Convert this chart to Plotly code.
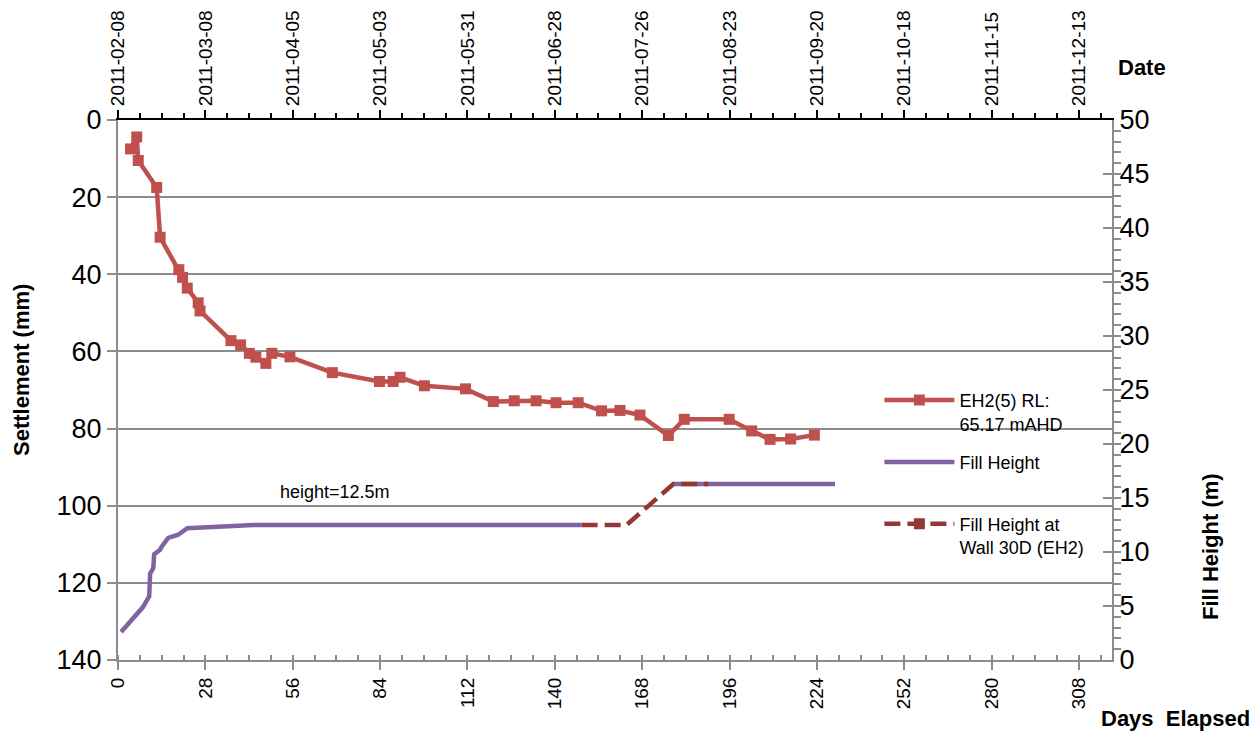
import datetime as dt
import plotly.graph_objects as go

# ---------------- data ----------------
start_date = dt.date(2011, 2, 8)

settle_day = [4.0, 6.0, 6.5, 12.4, 13.5, 19.5, 20.7, 22.2, 25.7, 26.3, 36.2, 39.3,
              42.1, 44.2, 47.4, 49.3, 55.1, 68.7, 83.8, 88.2, 90.4, 98.2, 111.4,
              120.3, 127.0, 134.0, 140.4, 147.5, 155.0, 160.9, 167.3, 176.4, 181.5,
              195.9, 203.1, 209.0, 215.6, 223.2]
settle_mm = [7.5, 4.4, 10.5, 17.5, 30.4, 38.8, 40.8, 43.6, 47.4, 49.5, 57.2, 58.3,
             60.5, 61.5, 63.1, 60.5, 61.4, 65.5, 67.8, 67.8, 66.7, 68.9, 69.7,
             73.0, 72.8, 72.8, 73.3, 73.3, 75.4, 75.3, 76.5, 81.8, 77.6,
             77.6, 80.6, 82.8, 82.7, 81.7]

fill_day = [1.0, 8.0, 9.2, 10.0, 10.3, 11.3, 11.6, 13.5, 14.0, 16.1, 19.3, 22.2,
            43.4, 148.6, None, 178.0, 229.8]
fill_m = [2.6, 4.9, 5.5, 5.9, 8.0, 8.5, 9.8, 10.2, 10.5, 11.3, 11.6, 12.2,
          12.5, 12.5, None, 16.3, 16.3]

wall_day = [148.6, 163.0, 178.0, 189.2]
wall_m = [12.5, 12.5, 16.3, 16.3]

day_ticks = [0, 28, 56, 84, 112, 140, 168, 196, 224, 252, 280, 308]
settle_ticks = [0, 20, 40, 60, 80, 100, 120, 140]
fill_ticks = [0, 5, 10, 15, 20, 25, 30, 35, 40, 45, 50]

names = ["EH2(5) RL:<br>65.17 mAHD", "Fill Height<br> ", "Fill Height at<br>Wall 30D (EH2)"]
note_text = "height=12.5m"
note_day, note_mm = 69.6, 96.5

day_max = 318.6

# ---------------- styling ----------------
RED = "#C0504D"
PURPLE = "#8064A2"
DARKRED = "#953735"
GRID = "#8C8C8C"
TICKFONT = dict(family="Liberation Sans, Arial, sans-serif", size=27, color="black")
TITLEFONT = dict(family="Liberation Sans Narrow, Liberation Sans, Arial", size=22, color="black")

# the page body adds an 8px offset, so the figure is 8px smaller on each side
PAGE_OFF = 8
W, H = 1259 - PAGE_OFF, 733 - PAGE_OFF
PL, PT, PR, PB = 118, 120, 1112, 660  # plot area in screen pixels
PW, PHh = PR - PL, PB - PT

fig = go.Figure()

fig.add_trace(go.Scatter(
    x=settle_day, y=settle_mm, name=names[0], mode="lines+markers",
    line=dict(color=RED, width=4.5), marker=dict(symbol="square", size=11, color=RED),
    legendgroup="a", xaxis="x", yaxis="y"))

fig.add_trace(go.Scatter(
    x=fill_day, y=fill_m, name=names[1], mode="lines", connectgaps=False,
    line=dict(color=PURPLE, width=4.5), legendgroup="b", xaxis="x", yaxis="y2"))

fig.add_trace(go.Scatter(
    x=wall_day, y=wall_m, name=names[2], mode="lines", showlegend=False,
    line=dict(color=DARKRED, width=4.5, dash="16px,7px"), legendgroup="c",
    xaxis="x", yaxis="y2"))
# legend proxy (shows the square marker used in the legend only)
fig.add_trace(go.Scatter(
    x=[None], y=[None], name=names[2], mode="lines+markers",
    line=dict(color=DARKRED, width=4.5, dash="16px,7px"),
    marker=dict(symbol="square", size=11, color=DARKRED), legendgroup="c",
    xaxis="x", yaxis="y2"))

# dummy trace to activate the top date axis
date_ticks = [(start_date + dt.timedelta(days=d)).isoformat() for d in range(0, 320, 28)]
fig.add_trace(go.Scatter(x=[start_date.isoformat()], y=[None], xaxis="x2", yaxis="y",
                         showlegend=False, hoverinfo="skip", mode="markers"))

end_str = (dt.datetime.combine(start_date, dt.time()) + dt.timedelta(days=day_max)).isoformat()

fig.update_layout(
    width=W, height=H,
    margin=dict(l=PL - PAGE_OFF, r=W + PAGE_OFF - PR, t=PT - PAGE_OFF, b=H + PAGE_OFF - PB,
                autoexpand=False),
    paper_bgcolor="white", plot_bgcolor="white",
    showlegend=True,
    legend=dict(x=0.766, y=0.515, xanchor="left", yanchor="top",
                bgcolor="rgba(0,0,0,0)", itemwidth=70, valign="top",
                tracegroupgap=12,
                font=dict(family="Liberation Sans, Arial", size=18, color="black")),
    xaxis=dict(range=[0, day_max], tickmode="array", tickvals=day_ticks, automargin=False,
               tickangle=-90, tickfont=dict(family="Liberation Sans, Arial", size=19, color="black"),
               showgrid=False, zeroline=False, showline=True, linecolor=GRID, linewidth=2,
               ticks="outside", ticklen=8, tickcolor=GRID, tickwidth=2,
               minor=dict(dtick=7, tick0=0, ticks="inside", ticklen=5, tickcolor=GRID,
                          tickwidth=1.5, showgrid=False)),
    xaxis2=dict(type="date", overlaying="x", side="top", anchor="y", automargin=False,
                range=[start_date.isoformat(), end_str],
                tickmode="array", tickvals=date_ticks, ticktext=date_ticks,
                tickangle=-90, tickfont=dict(family="Liberation Sans, Arial", size=19, color="black"),
                showgrid=False, zeroline=False, showline=True, linecolor="black", linewidth=2,
                ticks="outside", ticklen=8, tickcolor="black", tickwidth=2,
                minor=dict(dtick=7 * 86400000, tick0=start_date.isoformat(), ticks="outside",
                           ticklen=5, tickcolor="black", tickwidth=1.5, showgrid=False)),
    yaxis=dict(range=[140, 0], tickmode="array", tickvals=settle_ticks, automargin=False,
               tickfont=TICKFONT, showgrid=True, gridcolor=GRID, gridwidth=1.5,
               zeroline=False, showline=True, linecolor=GRID, linewidth=2,
               ticks="outside", ticklen=9, tickcolor=GRID, tickwidth=2),
    yaxis2=dict(range=[0, 50], tickmode="array", tickvals=fill_ticks, overlaying="y",
                side="right", anchor="x", tickfont=TICKFONT, showgrid=False, zeroline=False,
                automargin=False, showline=True, linecolor=GRID, linewidth=2,
                ticks="inside", ticklen=9, tickcolor=GRID, tickwidth=2,
                minor=dict(dtick=1, ticks="outside", ticklen=7, tickcolor=GRID,
                           tickwidth=1.5, showgrid=False)),
)

fig.add_annotation(x=note_day, y=note_mm, xref="x", yref="y", text=note_text,
                   showarrow=False, font=dict(family="Liberation Sans, Arial", size=18, color="black"))
ann = dict(xref="paper", yref="paper", showarrow=False, font=TITLEFONT,
           xanchor="center", yanchor="middle")
fig.add_annotation(x=(21 - PL) / PW, y=(PB - 370) / PHh, text="<b>Settlement (mm)</b>",
                   textangle=-90, **ann)
fig.add_annotation(x=(1210 - PL) / PW, y=(PB - 547) / PHh, text="<b>Fill Height (m)</b>",
                   textangle=-90, **ann)
fig.add_annotation(x=(1142 - PL) / PW, y=(PB - 67) / PHh, text="<b>Date</b>", **ann)
fig.add_annotation(x=(1175 - PL) / PW, y=(PB - 718) / PHh, text="<b>Days  Elapsed</b>", **ann)

fig.write_html("out.html")
